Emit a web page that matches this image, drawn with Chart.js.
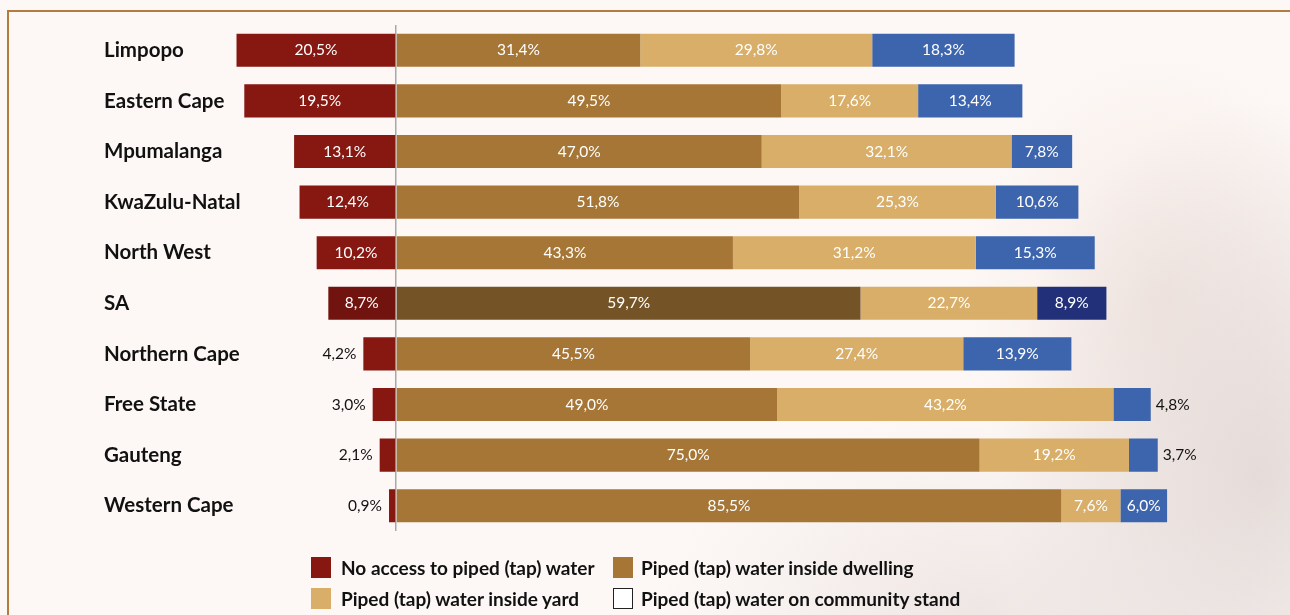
<!DOCTYPE html>
<html>
<head>
<meta charset="utf-8">
<script src="https://cdn.jsdelivr.net/npm/chart.js@4/dist/chart.umd.min.js"></script>
<style>
    html, body { margin: 0; padding: 0; }
    body {
        width: 1290px; height: 615px; overflow: hidden; position: relative;
        font-family: Lato, "Open Sans", sans-serif;
        background:
            radial-gradient(ellipse 260px 380px at 1260px 480px, rgba(214, 203, 200, 0.6), rgba(214, 203, 200, 0) 100%),
            radial-gradient(ellipse 200px 260px at 1160px 300px, rgba(232, 214, 206, 0.45), rgba(232, 214, 206, 0) 100%),
            radial-gradient(ellipse 320px 200px at 980px 610px, rgba(226, 216, 213, 0.55), rgba(226, 216, 213, 0) 100%),
            #fdf8f6;
    }
    .frame {
        position: absolute; left: 7px; top: 10px; right: 0; bottom: 0;
        border-top: 2px solid #b07d3f; border-left: 2px solid #b07d3f;
    }
    #chart { position: absolute; left: 0; top: 0; }
    .legend { position: absolute; left: 311px; top: 556px; font-weight: bold; font-size: 19px; color: #111; }
    .item { position: absolute; white-space: nowrap; display: flex; align-items: center; }
    .sw { width: 20px; height: 21px; margin-right: 10px; box-sizing: border-box; }
</style>
</head>
<body>
<div class="frame"></div>
<canvas id="chart" width="1290" height="615"></canvas>
<div class="legend">
    <div class="item" style="left:0;top:0"><span class="sw" style="background:#861811"></span>No access to piped (tap) water</div>
    <div class="item" style="left:302px;top:0"><span class="sw" style="background:#a67637;margin-right:8px"></span>Piped (tap) water inside dwelling</div>
    <div class="item" style="left:0;top:31px"><span class="sw" style="background:#d8ae68"></span>Piped (tap) water inside yard</div>
    <div class="item" style="left:302px;top:31px"><span class="sw" style="background:#fff;border:1px solid #222;margin-right:8px"></span>Piped (tap) water on community stand</div>
</div>
<script>
const provinces = ['Limpopo', 'Eastern Cape', 'Mpumalanga', 'KwaZulu-Natal', 'North West',
    'SA', 'Northern Cape', 'Free State', 'Gauteng', 'Western Cape'];

// share of households, %; "no access" is drawn to the left of zero
const noAccess = [20.5, 19.5, 13.1, 12.4, 10.2, 8.7, 4.2, 3.0, 2.1, 0.9];
const inDwelling = [31.4, 49.5, 47.0, 51.8, 43.3, 59.7, 45.5, 49.0, 75.0, 85.5];
const inYard = [29.8, 17.6, 32.1, 25.3, 31.2, 22.7, 27.4, 43.2, 19.2, 7.6];
const communityStand = [18.3, 13.4, 7.8, 10.6, 15.3, 8.9, 13.9, 4.8, 3.7, 6.0];

const saIdx = provinces.indexOf('SA');

// SA row gets the darker shade of each colour
const shade = (normal, dark) => provinces.map((p, i) => i === saIdx ? dark : normal);

const fmt = v => Math.abs(v).toFixed(1).replace('.', ',') + '%';

// province names, left aligned at a fixed x (axis ticks would get clipped)
const rowNames = {
    id: 'rowNames',
    afterDraw(chart) {
        const ctx = chart.ctx;
        const y = chart.scales.y;
        ctx.save();
        ctx.font = 'bold 20.5px Lato, "Open Sans", sans-serif';
        ctx.fillStyle = '#111';
        ctx.textAlign = 'left';
        ctx.textBaseline = 'middle';
        provinces.forEach((p, i) => ctx.fillText(p, 104, y.getPixelForValue(i)));
        ctx.restore();
    }
};

const barLabels = {
    id: 'barLabels',
    afterDatasetsDraw(chart) {
        const ctx = chart.ctx;
        ctx.save();
        ctx.font = '15.5px Lato, "Open Sans", sans-serif';
        ctx.textBaseline = 'middle';
        chart.data.datasets.forEach((ds, di) => {
            chart.getDatasetMeta(di).data.forEach((bar, i) => {
                const v = ds.data[i];
                const left = Math.min(bar.x, bar.base);
                const right = Math.max(bar.x, bar.base);
                const w = right - left;
                const txt = fmt(v);
                const tw = ctx.measureText(txt).width;
                if (w > tw + 8) {
                    ctx.fillStyle = '#ffffff';
                    ctx.textAlign = 'center';
                    ctx.fillText(txt, (left + right) / 2, bar.y);
                } else if (v < 0) {
                    ctx.fillStyle = '#111';
                    ctx.textAlign = 'right';
                    ctx.fillText(txt, left - 7, bar.y);
                } else {
                    ctx.fillStyle = '#111';
                    ctx.textAlign = 'left';
                    ctx.fillText(txt, right + 5, bar.y);
                }
            });
        });
        ctx.restore();
    }
};

const chart = new Chart(document.getElementById('chart'), {
    type: 'bar',
    data: {
        labels: provinces,
        datasets: [{
            label: 'No access to piped (tap) water',
            data: noAccess.map(v => -v),
            backgroundColor: shade('#861811', '#711410')
        }, {
            label: 'Piped (tap) water inside dwelling',
            data: inDwelling,
            backgroundColor: shade('#a67637', '#745427')
        }, {
            label: 'Piped (tap) water inside yard',
            data: inYard,
            backgroundColor: shade('#d8ae68', '#d8ae68')
        }, {
            label: 'Piped (tap) water on community stand',
            data: communityStand,
            backgroundColor: shade('#3d65ae', '#213079')
        }]
    },
    options: {
        indexAxis: 'y',
        responsive: false,
        animation: false,
        barPercentage: 0.655,
        categoryPercentage: 1,
        layout: { padding: { left: 104, top: 25, bottom: 84, right: 77 } },
        scales: {
            x: {
                stacked: true,
                min: -25,
                max: 105,
                ticks: { display: false },
                border: { display: false },
                grid: {
                    drawTicks: false,
                    color: ctx => ctx.tick && ctx.tick.value === 0 ? '#a8a8a8' : 'transparent',
                    lineWidth: 1.5
                },
                afterFit: a => { a.height = 0; }
            },
            y: {
                stacked: true,
                border: { display: false },
                grid: { display: false, drawTicks: false },
                ticks: { display: false },
                afterFit: a => { a.width = 97.5; }
            }
        },
        plugins: {
            legend: { display: false },
            tooltip: { enabled: false }
        }
    },
    plugins: [barLabels, rowNames]
});
</script>
</body>
</html>
